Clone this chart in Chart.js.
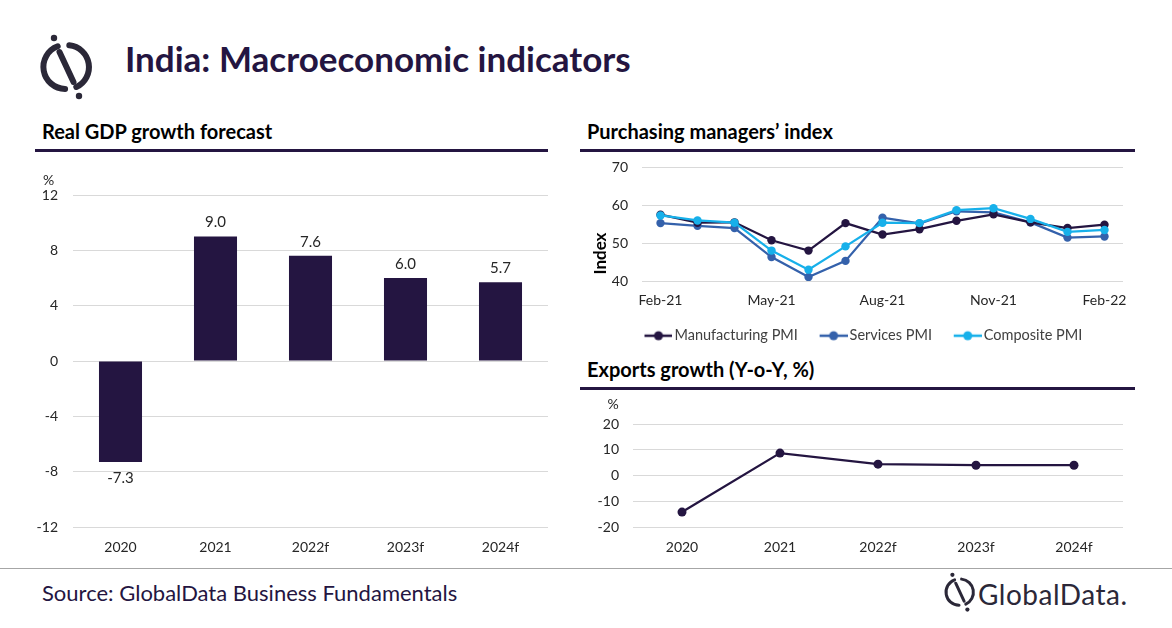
<!DOCTYPE html>
<html>
<head>
<meta charset="utf-8">
<script src="https://cdn.jsdelivr.net/npm/chart.js@4/dist/chart.umd.min.js"></script>
<style>
  html, body { margin: 0; padding: 0; background: #fff; }
  body { width: 1172px; height: 628px; position: relative; overflow: hidden; font-family: Lato, sans-serif; color: #241541; }
  .abs { position: absolute; }
  .title { left: 125px; top: 37px; font-size: 35px; font-weight: 700; white-space: nowrap; }
  .head { font-size: 20px; font-weight: 700; color: #000; white-space: nowrap; }
  .rule { height: 3px; background: #241541; }
  .source { left: 42px; top: 579px; font-size: 22px; white-space: nowrap; }
  .brand { left: 978px; top: 577px; font-size: 28px; color: #2b2838; letter-spacing: 0.5px; white-space: nowrap; }
</style>
</head>
<body>

<svg class="abs" style="left:0;top:0" width="1172" height="628">
  <g fill="none" stroke="#2b2838" stroke-width="6" stroke-linecap="round">
    <path d="M57.7 46.3 A22 22 0 0 0 65.1 88.9" />
    <path d="M69.3 45.2 A22 22 0 0 1 76.3 87.0" />
    <path d="M59.5 52 L73.5 82" />
  </g>
  <circle cx="54" cy="38" r="3.2" fill="#2b2838" />
  <circle cx="79" cy="96" r="3.2" fill="#2b2838" />
  <line x1="0" y1="568.5" x2="1172" y2="568.5" stroke="#a6a6a6" stroke-width="1" />
  <g transform="translate(920 552) scale(0.6)">
    <g fill="none" stroke="#2b2838" stroke-width="5" stroke-linecap="round">
      <path d="M57.7 46.3 A22 22 0 0 0 65.1 88.9" />
      <path d="M69.3 45.2 A22 22 0 0 1 76.3 87.0" />
      <path d="M59.5 52 L73.5 82" />
    </g>
    <circle cx="54" cy="38" r="3.5" fill="#2b2838" />
    <circle cx="79" cy="96" r="3.5" fill="#2b2838" />
  </g>
</svg>

<div class="abs title">India: Macroeconomic indicators</div>

<div class="abs head" style="left:42px;top:119px">Real GDP growth forecast</div>
<div class="abs rule" style="left:35px;top:149px;width:513px"></div>

<div class="abs head" style="left:587px;top:119px">Purchasing managers’ index</div>
<div class="abs rule" style="left:580px;top:149px;width:555px"></div>

<div class="abs head" style="left:587px;top:357px">Exports growth (Y-o-Y, %)</div>
<div class="abs rule" style="left:580px;top:387px;width:555px"></div>

<canvas id="chart-gdp" class="abs" style="left:0;top:170px" width="560" height="395"></canvas>
<canvas id="chart-pmi" class="abs" style="left:580px;top:150px" width="560" height="203"></canvas>
<canvas id="chart-exports" class="abs" style="left:580px;top:395px" width="560" height="170"></canvas>

<div class="abs source">Source: GlobalData Business Fundamentals</div>
<div class="abs brand">GlobalData.</div>

<script>
const dark = '#241541'
const services = '#3461ab'
const composite = '#17b0ea'
const gridColor = '#d9d9d9'
const tickColor = '#262626'

const gdpYears = ['2020', '2021', '2022f', '2023f', '2024f']
const gdpGrowth = [-7.3, 9.0, 7.6, 6.0, 5.7]

const pmiMonths = ['Feb-21', 'Mar-21', 'Apr-21', 'May-21', 'Jun-21', 'Jul-21', 'Aug-21',
    'Sep-21', 'Oct-21', 'Nov-21', 'Dec-21', 'Jan-22', 'Feb-22']
const manufacturingPmi = [57.5, 55.4, 55.5, 50.8, 48.1, 55.3, 52.3, 53.7, 55.9, 57.6, 55.5, 54.0, 54.9]
const servicesPmi = [55.3, 54.6, 54.0, 46.4, 41.2, 45.4, 56.7, 55.2, 58.4, 58.1, 55.5, 51.5, 51.8]
const compositePmi = [57.3, 56.0, 55.4, 48.1, 43.1, 49.2, 55.4, 55.3, 58.7, 59.2, 56.4, 53.0, 53.5]

const exportYears = ['2020', '2021', '2022f', '2023f', '2024f']
const exportsGrowth = [-14.2, 8.7, 4.4, 4.0, 4.0]

const tickFont = { family: 'Lato', size: 14 }

// fixed axis sizes so the plot areas line up with the picture
function fixY(width) {
    return (s) => {
        s.width = width
        s.paddingTop = 0
        s.paddingBottom = 0
    }
}

function fixX(height) {
    return (s) => {
        s.height = height
    }
}

// "%" unit text above the y axis
function unitLabel(dx, dy) {
    return {
        id: 'unitLabel',
        afterDraw(chart) {
            const ctx = chart.ctx
            ctx.save()
            ctx.font = '14px Lato'
            ctx.fillStyle = tickColor
            ctx.textAlign = 'center'
            ctx.textBaseline = 'middle'
            ctx.fillText('%', chart.chartArea.left + dx, chart.chartArea.top + dy)
            ctx.restore()
        }
    }
}

const barLabels = {
    id: 'barLabels',
    afterDatasetsDraw(chart) {
        const ctx = chart.ctx
        const meta = chart.getDatasetMeta(0)
        ctx.save()
        ctx.font = '15px Lato'
        ctx.fillStyle = tickColor
        ctx.textAlign = 'center'
        ctx.textBaseline = 'middle'
        meta.data.forEach((bar, i) => {
            const v = gdpGrowth[i]
            const y = v >= 0 ? bar.y - 14 : bar.y + 16
            ctx.fillText(v.toFixed(1), bar.x, y)
        })
        ctx.restore()
    }
}

const indexTitle = {
    id: 'indexTitle',
    afterDraw(chart) {
        const ctx = chart.ctx
        ctx.save()
        ctx.font = 'bold 17px Lato'
        ctx.fillStyle = '#000'
        ctx.textAlign = 'center'
        ctx.textBaseline = 'middle'
        ctx.translate(chart.chartArea.left - 41, chart.chartArea.bottom - 28)
        ctx.rotate(-Math.PI / 2)
        ctx.fillText('Index', 0, 0)
        ctx.restore()
    }
}

// legend marker: line with a dot, blank room on the left keeps the items apart
function markerImage(color) {
    const c = document.createElement('canvas')
    c.width = 39
    c.height = 12
    const g = c.getContext('2d')
    g.strokeStyle = color
    g.lineWidth = 2.5
    g.beginPath()
    g.moveTo(11, 6)
    g.lineTo(39, 6)
    g.stroke()
    g.fillStyle = color
    g.beginPath()
    g.arc(25, 6, 4.5, 0, Math.PI * 2)
    g.fill()
    return c
}

const gdpChart = new Chart(document.getElementById('chart-gdp'), {
    type: 'bar',
    data: {
        labels: gdpYears,
        datasets: [{
            label: 'Real GDP growth',
            data: gdpGrowth,
            backgroundColor: dark,
            categoryPercentage: 1,
            barPercentage: 0.453
        }]
    },
    options: {
        responsive: false,
        animation: false,
        layout: { padding: { top: 25, right: 12, left: 0, bottom: 0 } },
        plugins: { legend: { display: false }, tooltip: { enabled: false } },
        scales: {
            x: {
                grid: { display: false, drawTicks: false },
                border: { display: false },
                ticks: { font: tickFont, color: tickColor, padding: 12 },
                afterFit: fixX(38)
            },
            y: {
                min: -12,
                max: 12,
                grid: { color: gridColor, drawTicks: false },
                border: { display: false },
                ticks: { stepSize: 4, font: tickFont, color: tickColor, padding: 15 },
                afterFit: fixY(73)
            }
        }
    },
    plugins: [barLabels, unitLabel(-24.5, -14.5)]
})

const pmiChart = new Chart(document.getElementById('chart-pmi'), {
    type: 'line',
    data: {
        labels: pmiMonths,
        datasets: [{
            label: 'Manufacturing PMI',
            data: manufacturingPmi,
            borderColor: dark,
            backgroundColor: dark,
            order: 1
        }, {
            label: 'Services PMI',
            data: servicesPmi,
            borderColor: services,
            backgroundColor: services,
            order: 2
        }, {
            label: 'Composite PMI',
            data: compositePmi,
            borderColor: composite,
            backgroundColor: composite,
            order: 0
        }]
    },
    options: {
        responsive: false,
        animation: false,
        elements: {
            line: { borderWidth: 2.25, tension: 0 },
            point: { radius: 4.2, borderWidth: 0 }
        },
        layout: { padding: { top: 17, right: 17, left: 18, bottom: 0 } },
        plugins: {
            tooltip: { enabled: false },
            legend: {
                position: 'bottom',
                labels: {
                    color: '#404040',
                    font: { family: 'Lato', size: 14.5 },
                    usePointStyle: true,
                    pointStyleWidth: 28.5,
                    padding: 16,
                    generateLabels: (chart) => chart.data.datasets.map((ds, i) => ({
                        text: ds.label,
                        pointStyle: markerImage(ds.borderColor),
                        fillStyle: ds.borderColor,
                        strokeStyle: ds.borderColor,
                        lineWidth: 0,
                        fontColor: '#404040',
                        hidden: false,
                        datasetIndex: i
                    }))
                }
            }
        },
        scales: {
            x: {
                offset: true,
                grid: { display: false, drawTicks: false },
                border: { display: false },
                ticks: {
                    font: tickFont,
                    color: tickColor,
                    padding: 11,
                    autoSkip: false,
                    maxRotation: 0,
                    callback: (v, i) => (i % 3 === 0 ? pmiMonths[i] : null)
                },
                afterFit: fixX(31)
            },
            y: {
                min: 40,
                max: 70,
                grid: { color: gridColor, drawTicks: false },
                border: { display: false },
                ticks: { stepSize: 10, font: tickFont, color: tickColor, padding: 14 },
                afterFit: fixY(44)
            }
        }
    },
    plugins: [indexTitle]
})

const exportsChart = new Chart(document.getElementById('chart-exports'), {
    type: 'line',
    data: {
        labels: exportYears,
        datasets: [{
            label: 'Exports growth',
            data: exportsGrowth,
            borderColor: dark,
            backgroundColor: dark,
            borderWidth: 2.25,
            pointRadius: 4.5,
            pointBorderWidth: 0,
            tension: 0
        }]
    },
    options: {
        responsive: false,
        animation: false,
        layout: { padding: { top: 29, right: 17, left: 0, bottom: 0 } },
        plugins: { legend: { display: false }, tooltip: { enabled: false } },
        scales: {
            x: {
                offset: true,
                grid: { display: false, drawTicks: false },
                border: { display: false },
                ticks: { font: tickFont, color: tickColor, padding: 12 },
                afterFit: fixX(38)
            },
            y: {
                min: -20,
                max: 20,
                grid: { color: gridColor, drawTicks: false },
                border: { display: false },
                ticks: { stepSize: 10, font: tickFont, color: tickColor, padding: 14 },
                afterFit: fixY(53)
            }
        }
    },
    plugins: [unitLabel(-20, -20)]
})
</script>
</body>
</html>
